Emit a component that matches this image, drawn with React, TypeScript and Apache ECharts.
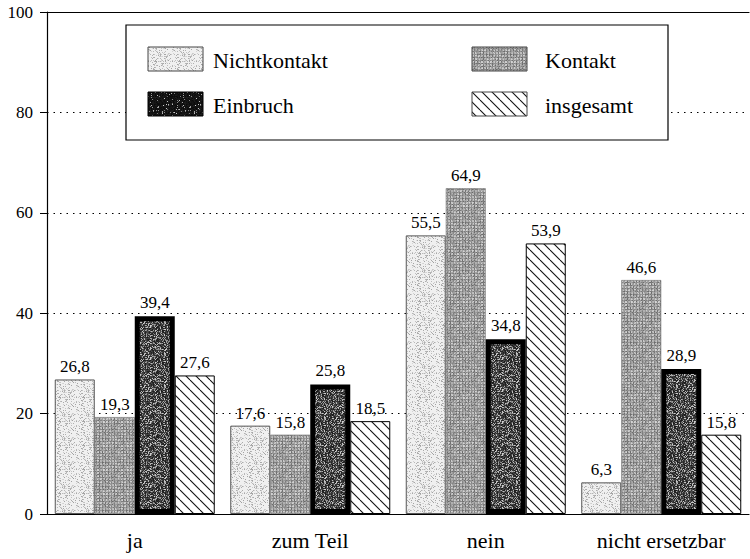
import React, { useEffect, useRef } from "react";
import * as echarts from "echarts";

const categories = ["ja", "zum Teil", "nein", "nicht ersetzbar"];
const seriesNames = ["Nichtkontakt", "Kontakt", "Einbruch", "insgesamt"];
const nichtkontakt = [26.8, 17.6, 55.5, 6.3];
const kontakt = [19.3, 15.8, 64.9, 46.6];
const einbruch = [39.4, 25.8, 34.8, 28.9];
const insgesamt = [27.6, 18.5, 53.9, 15.8];
const yTicks = [0, 20, 40, 60, 80, 100];

const FONT = "'Liberation Serif', 'Times New Roman', Times, serif";

function makeTile(w: number, h: number, draw: (ctx: CanvasRenderingContext2D, w: number, h: number) => void) {
  const c = document.createElement("canvas");
  c.width = w;
  c.height = h;
  const ctx = c.getContext("2d") as CanvasRenderingContext2D;
  draw(ctx, w, h);
  return { image: c.toDataURL(), imageWidth: w, imageHeight: h, repeat: "repeat" as const };
}

function makeNoise(seed0: number) {
  let seed = seed0;
  return () => {
    seed = (seed * 1103515245 + 12345) & 0x7fffffff;
    return seed / 0x7fffffff;
  };
}

function pixelTile(w: number, h: number, seed: number, fn: (x: number, y: number, r: () => number) => number) {
  return makeTile(w, h, (ctx) => {
    const img = ctx.createImageData(w, h);
    const r = makeNoise(seed);
    for (let y = 0; y < h; y++) {
      for (let x = 0; x < w; x++) {
        const v = fn(x, y, r);
        const i = (y * w + x) * 4;
        img.data[i] = v;
        img.data[i + 1] = v;
        img.data[i + 2] = v;
        img.data[i + 3] = 255;
      }
    }
    ctx.putImageData(img, 0, 0);
  });
}

export default function App() {
  const ref = useRef<HTMLDivElement>(null);
  useEffect(() => {
    if (!ref.current) return;
    const chart = echarts.init(ref.current, undefined, { renderer: "svg" });

    const lightPat = pixelTile(24, 24, 7, (x, y, r) => (r() < 0.25 ? 160 + Math.floor(r() * 60) : 240));
    const midPat = pixelTile(24, 24, 11, (x, y, r) => {
      const grid = x % 3 === 0 || y % 3 === 0;
      const base = grid ? 135 : 185;
      return Math.max(0, Math.min(255, base + Math.floor((r() - 0.5) * 60)));
    });
    const darkPat = pixelTile(32, 32, 23, (x, y, r) => (r() < 0.3 ? 120 + Math.floor(r() * 90) : 25 + Math.floor(r() * 55)));
    const blackPat = pixelTile(32, 32, 31, (x, y, r) => (r() < 0.08 ? 110 + Math.floor(r() * 100) : 10 + Math.floor(r() * 20)));
    const hatchPat = makeTile(10, 10, (ctx, w, h) => {
      ctx.fillStyle = "#fff";
      ctx.fillRect(0, 0, w, h);
      ctx.strokeStyle = "#111";
      ctx.lineWidth = 1.1;
      for (const k of [-w, 0, w]) {
        ctx.beginPath();
        ctx.moveTo(k, 0);
        ctx.lineTo(k + w, h);
        ctx.stroke();
      }
    });

    const labelFmt = (p: any) => String(p.value).replace(".", ",");
    const label = (distance: number) => ({
      show: true,
      position: "top" as const,
      distance,
      formatter: labelFmt,
      fontSize: 17,
      fontFamily: FONT,
      color: "#000",
    });

    const styles = [
      { color: lightPat, borderColor: "#555", borderWidth: 1 },
      { color: midPat, borderColor: "#777", borderWidth: 0.6 },
      { color: darkPat, borderColor: "#000", borderWidth: 5 },
      { color: hatchPat, borderColor: "#000", borderWidth: 1 },
    ];
    const datas = [nichtkontakt, kontakt, einbruch, insgesamt];

    const legendItems: any[] = [];
    const legendPos = [
      { sx: 148, sy: 47, tx: 213, ty: 60 },
      { sx: 472, sy: 47, tx: 545, ty: 60 },
      { sx: 148, sy: 92, tx: 213, ty: 105 },
      { sx: 472, sy: 92, tx: 545, ty: 105 },
    ];
    seriesNames.forEach((name, i) => {
      const p = legendPos[i];
      const st = styles[i];
      legendItems.push({
        type: "rect",
        z: 101,
        shape: { x: p.sx, y: p.sy, width: 55, height: 24 },
        style: {
          fill: i === 2 ? blackPat : st.color,
          stroke: i === 2 ? "#000" : "#444",
          lineWidth: 1,
        },
      });
      legendItems.push({
        type: "text",
        z: 101,
        x: p.tx,
        y: p.ty,
        style: {
          text: name,
          fontSize: 22,
          fontFamily: FONT,
          fill: "#000",
          verticalAlign: "middle",
        },
      });
    });

    chart.setOption({
      animation: false,
      backgroundColor: "#fff",
      textStyle: { fontFamily: FONT },
      grid: { left: 47, right: 1, top: 12, bottom: 45 },
      xAxis: [
        {
          type: "category",
          data: categories,
          position: "bottom",
          axisLine: { lineStyle: { color: "#000", width: 1.2 } },
          axisTick: { alignWithLabel: true, length: 8, lineStyle: { color: "#000" } },
          axisLabel: { fontSize: 22, fontFamily: FONT, color: "#000", margin: 15 },
          splitLine: { show: false },
        },
        {
          type: "category",
          data: categories,
          position: "top",
          axisLine: { show: true, onZero: false, lineStyle: { color: "#000", width: 1.2 } },
          axisTick: { show: false },
          axisLabel: { show: false },
          splitLine: { show: false },
        },
      ],
      yAxis: {
        type: "value",
        min: yTicks[0],
        max: yTicks[yTicks.length - 1],
        interval: 20,
        axisLine: { show: true, lineStyle: { color: "#000", width: 1.2 } },
        axisTick: { show: true, length: 7, lineStyle: { color: "#000" } },
        axisLabel: { fontSize: 17, fontFamily: FONT, color: "#000", margin: 14 },
        splitLine: { show: true, lineStyle: { color: "#000", type: [1.5, 5], width: 1 } },
      },
      series: seriesNames.map((name, i) => ({
        name,
        type: "bar",
        data: datas[i],
        barWidth: 40,
        barGap: "0%",
        itemStyle: styles[i],
        label: label(i === 2 ? 5 : 4),
      })),
      graphic: [
        {
          type: "rect",
          z: 100,
          shape: { x: 126, y: 25, width: 542, height: 115 },
          style: { fill: "#fff", stroke: "#000", lineWidth: 1.2 },
        },
        ...legendItems,
      ],
    });
    return () => chart.dispose();
  }, []);
  return (
    <div
      ref={ref}
      style={{ position: "fixed", left: 0, top: 0, width: 750, height: 559, background: "#fff" }}
    />
  );
}
